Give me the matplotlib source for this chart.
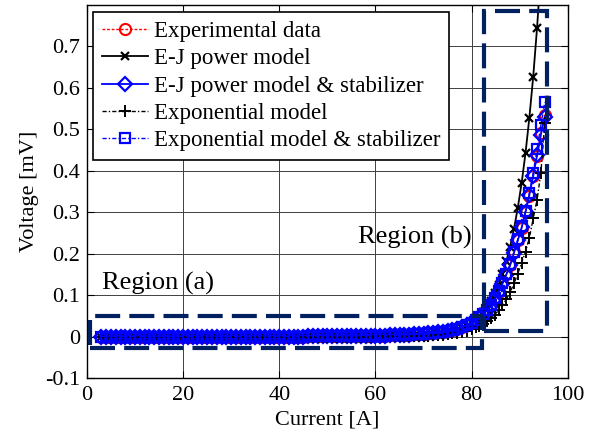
import matplotlib
matplotlib.use("Agg")
import matplotlib.pyplot as plt
from matplotlib.patches import Rectangle

plt.rcParams["font.family"] = ["Liberation Serif", "DejaVu Serif"]

# measured currents [A]
current = [3, 4, 5, 6, 7, 8, 9,
           10, 11, 12, 13, 14, 15, 16, 17, 18, 19,
           20, 21, 22, 23, 24, 25, 26, 27, 28, 29,
           30, 31, 32, 33, 34, 35, 36, 37, 38, 39,
           40, 41, 42, 43, 44, 45, 46, 47, 48, 49,
           50, 51, 52, 53, 54, 55, 56, 57, 58, 59,
           60, 61, 62, 63, 64, 65, 66, 67, 68, 69,
           70, 71, 72, 73, 74, 75, 76, 77, 78, 79,
           80.0, 80.8, 81.6, 82.4, 83.2, 84.0, 84.8, 85.6, 86.4, 87.2,
           88.0, 88.8, 89.6, 90.4, 91.2, 92.0, 92.8, 93.6, 94.4, 95.2]

# voltages [mV]
low_common = [0, 0, 0, 0, 0, 0, 0,
              0, 0, 0, 0, 0, 0, 0, 0, 0, 0,
              0, 0, 0, 0, 0, 0, 0, 0, 0, 0,
              0, 0, 0, 0, 0, 0, 0, 0, 0, 0,
              0, 0, 0, 0, 0, 0, .001, .001, .001, .001,
              .001, .001, .001, .001, .001, .001, .002, .002, .002, .002,
              .002, .002, .002, .003, .003, .003, .003, .004, .005, .006,
              .007, .008, .009, .011, .012, .014, .016, .019, .023, .028]

v_exp = low_common + [.034, .040, .047, .056, .064, .075, .092, .108, .128, .150,
                      .172, .203, .232, .262, .300, .340, .388, .436, .490, .535]
v_ej_stab = low_common + [.034, .040, .046, .054, .063, .074, .090, .107, .127, .149,
                          .172, .202, .232, .263, .300, .342, .388, .437, .487, .530]
v_expo_stab = low_common + [.033, .039, .046, .055, .064, .076, .092, .109, .129, .151,
                            .174, .205, .235, .266, .303, .346, .395, .452, .510, .565]

v_ej = [0, 0, 0, 0, 0, 0, 0,
        0, 0, 0, 0, 0, 0, 0, 0, 0, 0,
        0, 0, 0, 0, 0, 0, 0, 0, 0, 0,
        0, 0, 0, 0, 0, 0, 0, 0, 0, 0,
        0, 0, 0, 0, 0, 0, 0, 0, 0, 0,
        0, 0, 0, 0, 0, 0, 0, 0, 0, 0,
        .0001, .0001, .0002, .0003, .0004, .0005, .0007, .0009, .0012, .0017,
        .0022, .0030, .0039, .0052, .0068, .0089, .0116, .0150, .0194, .0250,
        .032, .039, .048, .058, .071, .086, .104, .125, .150, .181,
        .217, .260, .311, .371, .443, .528, .627, .745, .883, 1.04]

v_expo = [0, 0, 0, 0, 0, 0, 0,
          0, 0, 0, 0, 0, 0, 0, 0, 0, 0,
          0, 0, 0, 0, 0, 0, 0, 0, 0, 0,
          0, 0, 0, 0, 0, 0, 0, 0, 0, 0,
          0, 0, 0, 0, 0, 0, 0, 0, 0, 0,
          0, 0, 0, 0, 0, 0, 0, 0, 0, 0,
          .0002, .0003, .0003, .0004, .0005, .0006, .0008, .0010, .0012, .0016,
          .0020, .0024, .0030, .0038, .0048, .0060, .0074, .0093, .0116, .0145,
          .018, .022, .026, .031, .037, .044, .053, .063, .075, .090,
          .107, .128, .152, .178, .205, .238, .285, .330, .395, .515]

labels = ["Experimental data", "E-J power model", "E-J power model & stabilizer",
          "Exponential model", "Exponential model & stabilizer"]

# dashed boxes: (x0, x1, y0, y1)
region_a = (0.7, 82.2, -0.027, 0.050)
region_b = (82.6, 95.7, 0.013, 0.784)
navy = "#002060"

fig = plt.figure(figsize=(5.99, 4.36), dpi=100)
ax = fig.add_axes([0.145, 0.133, 0.803, 0.856])

ax.plot(current, v_exp, color="red", ls=(0, (2, 1.3)), lw=1.0, marker="o",
        ms=8, mfc="none", mew=1.5, label=labels[0])
ax.plot(current, v_ej, color="black", ls="-", lw=1.3, marker="x",
        ms=6, mew=1.6, label=labels[1])
ax.plot(current, v_ej_stab, color="blue", ls="-", lw=1.3, marker="D",
        ms=7, mfc="none", mew=1.6, label=labels[2])
ax.plot(current, v_expo, color="black", ls=(0, (3, 1.5, 1, 1.5)), lw=1.0, marker="+",
        ms=9, mew=1.4, label=labels[3])
ax.plot(current, v_expo_stab, color="blue", ls=(0, (3, 1.5, 1, 1.5)), lw=1.0, marker="s",
        ms=7.5, mfc="none", mew=1.6, label=labels[4])

for x0, x1, y0, y1 in (region_a, region_b):
    ax.add_patch(Rectangle((x0, y0), x1 - x0, y1 - y0, fill=False, ec=navy,
                           lw=3.0, ls=(0, (6, 2.2)), zorder=5, clip_on=False))

ax.text(3.1, 0.127, "Region (a)", fontsize=19, va="center", ha="left")
ax.text(79.9, 0.238, "Region (b)", fontsize=19, va="center", ha="right")

ax.set_xlim(0, 100)
ax.set_ylim(-0.1, 0.8)
ax.set_xticks([0, 20, 40, 60, 80, 100])
ax.set_yticks([-0.1, 0, 0.1, 0.2, 0.3, 0.4, 0.5, 0.6, 0.7])
ax.set_yticklabels(["-0.1", "0", "0.1", "0.2", "0.3", "0.4", "0.5", "0.6", "0.7"])
ax.tick_params(axis="both", direction="in", top=True, right=True, length=5, labelsize=16)
ax.tick_params(axis="x", pad=6)
ax.tick_params(axis="y", pad=5)
ax.grid(True, color="0.25", lw=0.7)
ax.set_axisbelow(True)
for s in ax.spines.values():
    s.set_linewidth(1.0)

ax.set_xlabel("Current [A]", fontsize=16, labelpad=4)
ax.set_ylabel("Voltage [mV]", fontsize=16, labelpad=4)

leg = ax.legend(loc="upper left", bbox_to_anchor=(0.0125, 0.981), borderaxespad=0,
                prop={"size": 16.5}, fancybox=False, framealpha=1, edgecolor="black",
                handlelength=2.0, handletextpad=0.25, labelspacing=0.27, borderpad=0.4)
leg.get_frame().set_linewidth(1.2)
leg.set_zorder(6)

fig.savefig("out.png", dpi=100)
